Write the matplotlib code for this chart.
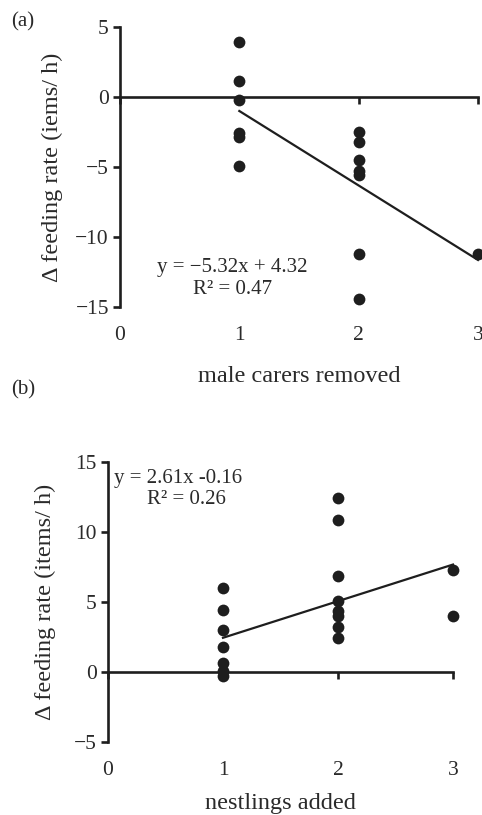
import matplotlib
matplotlib.use("Agg")
import matplotlib.pyplot as plt
from matplotlib.transforms import blended_transform_factory
import numpy as np

plt.rcParams['font.family'] = ['Liberation Serif', 'DejaVu Serif']

# ---- data: panel (a) ----
a_x = [1, 1, 1, 1, 1, 1, 2, 2, 2, 2, 2, 2, 2, 3]
a_y = [3.95, 1.17, -0.19, -2.55, -2.86, -4.93,
       -2.5, -3.19, -4.52, -5.31, -5.6, -11.24, -14.4, -11.24]
a_slope, a_icpt = -5.32, 4.32
a_eq = ["y = \u22125.32x + 4.32", "R\u00b2 = 0.47"]
a_xlabel = "male carers removed"
a_ylabel = "\u0394 feeding rate (iems/ h)"
a_yticks = [5, 0, -5, -10, -15]

# ---- data: panel (b) ----
b_x = [1, 1, 1, 1, 1, 1, 1, 2, 2, 2, 2, 2, 2, 2, 2, 3, 3]
b_y = [6.0, 4.42, 3.02, 1.77, 0.64, 0.1, -0.28,
       12.43, 10.88, 6.83, 5.04, 4.33, 3.97, 3.19, 2.43, 7.31, 3.97]
b_slope, b_icpt = 2.61, -0.16
b_eq = ["y = 2.61x -0.16", "R\u00b2 = 0.26"]
b_xlabel = "nestlings added"
b_ylabel = "\u0394 feeding rate (items/ h)"
b_yticks = [15, 10, 5, 0, -5]

xticks = [0, 1, 2, 3]

W, H = 482, 815
fig = plt.figure(figsize=(W / 100, H / 100), dpi=100)

ink = '#1e1e1e'
txt = '#2a2a2a'
fs_tick = 15.5
fs_eq = 15
fs_lab = 17.5


def make_panel(rect, xs, ys, slope, icpt, yticks, ylim, xlabel, ylabel,
               eq, eq_pos, eq_ha, ylabel_x, xlabel_y, ticklabel_y):
    ax = fig.add_axes(rect)
    ax.set_xlim(0, 3)
    ax.set_ylim(*ylim)
    for s in ['top', 'right']:
        ax.spines[s].set_visible(False)
    ax.spines['bottom'].set_position(('data', 0))
    for s in ['left', 'bottom']:
        ax.spines[s].set_linewidth(1.9)
        ax.spines[s].set_color(ink)
    ax.set_yticks(yticks)
    ax.set_yticklabels([("\u2212%d" % -t) if t < 0 else str(t) for t in yticks])
    ax.tick_params(axis='y', direction='out', length=5, width=1.9,
                   labelsize=fs_tick, pad=3, colors=ink, labelcolor=txt)
    ax.set_xticks(xticks)
    ax.tick_params(axis='x', direction='out', length=5, width=1.9,
                   labelbottom=False, colors=ink)
    tr = blended_transform_factory(ax.transData, ax.transAxes)
    for t in xticks:
        ax.text(t, ticklabel_y, str(t), transform=tr, ha='center', va='center',
                fontsize=fs_tick, color=txt)
    ax.scatter(xs, ys, s=72, color=ink, zorder=5, clip_on=False, linewidths=0)
    lx = np.array([1, 3])
    ax.plot(lx, slope * lx + icpt, color=ink, lw=1.6, zorder=4, clip_on=False)
    ax.text(eq_pos[0], eq_pos[1], eq[0], ha=eq_ha, va='center', fontsize=fs_eq,
            color=txt)
    ax.text(eq_pos[2], eq_pos[3], eq[1], ha='center', va='center',
            fontsize=fs_eq, color=txt)
    fig.text(ylabel_x / W, rect[1] + rect[3] / 2, ylabel, rotation=90,
             ha='center', va='center', fontsize=fs_lab, color=txt)
    fig.text(rect[0] + rect[2] / 2, 1 - xlabel_y / H, xlabel,
             ha='center', va='center', fontsize=fs_lab, color=txt)
    return ax


# panel (a): x 0..3 -> px 120..478, y 5..-15 -> px 27..307
rect_a = [120 / W, 1 - 307 / H, 358 / W, 280 / H]
make_panel(rect_a, a_x, a_y, a_slope, a_icpt, a_yticks, (-15, 5),
           a_xlabel, a_ylabel, a_eq, (0.94, -12.2, 0.94, -13.75), 'center',
           52, 377, -0.1)

# panel (b): x 0..3 -> px 108..453, y 15..-5 -> px 461.7..742.3
rect_b = [108 / W, 1 - 742.3 / H, 345 / W, 280.6 / H]
make_panel(rect_b, b_x, b_y, b_slope, b_icpt, b_yticks, (-5, 15),
           b_xlabel, b_ylabel, b_eq, (0.05, 13.8, 0.68, 12.3), 'left',
           45, 803, -0.1)

fig.text(23 / W, 1 - 22 / H, "(a)", ha='center', va='center', fontsize=fs_eq,
         color=txt)
fig.text(23 / W, 1 - 390 / H, "(b)", ha='center', va='center', fontsize=fs_eq,
         color=txt)

fig.savefig("out.png", dpi=100)
